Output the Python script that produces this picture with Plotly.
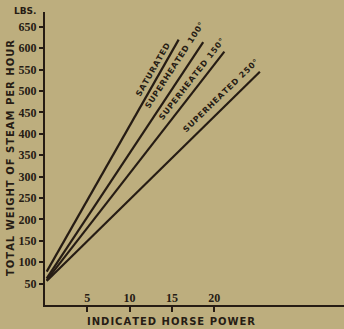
import plotly.graph_objects as go

# ---- data ----
series_names = ["SATURATED", "SUPERHEATED 100°", "SUPERHEATED 150°", "SUPERHEATED 250°"]
hp_start = [0.2, 0.2, 0.2, 0.2]
hp_end = [15.8, 18.7, 21.2, 25.4]
steam_start = [78, 62, 58, 56]
steam_end = [620, 614, 592, 545]

label_x = [12.8, 15.3, 17.3, 20.8]
label_y = [550, 560, 528, 490]
label_angle = [-60, -57, -52, -44]

y_ticks = [50, 100, 150, 200, 250, 300, 350, 400, 450, 500, 550, 600, 650]
x_ticks = [5, 10, 15, 20]

BG = "rgb(189,174,126)"
INK = "rgb(38,28,20)"

def spaced(s, sp="\u200a"):
    return sp.join(list(s))

fig = go.Figure()
for i, name in enumerate(series_names):
    fig.add_trace(go.Scatter(
        x=[hp_start[i], hp_end[i]], y=[steam_start[i], steam_end[i]],
        mode="lines", line=dict(color=INK, width=2.2), name=name,
        showlegend=False, hoverinfo="skip"))
    fig.add_annotation(x=label_x[i], y=label_y[i], xref="x", yref="y",
                       xanchor="center", yanchor="middle",
                       text=spaced(name), textangle=label_angle[i], showarrow=False,
                       font=dict(family="DejaVu Sans", size=8, color=INK, weight="bold"))

W, H = 344, 329
L, R, T, B = 45, 0, 12, 24
fig.update_layout(
    width=W, height=H,
    margin=dict(l=L, r=R, t=T, b=B, pad=0),
    paper_bgcolor=BG, plot_bgcolor=BG,
    xaxis=dict(range=[0, (W - L) / 8.46], showgrid=False, zeroline=False,
               showline=True, linecolor=INK, linewidth=2,
               tickmode="array", tickvals=x_ticks, ticktext=[str(v) for v in x_ticks],
               ticks="outside", ticklen=5, tickwidth=1.5, tickcolor=INK,
               ticklabelposition="inside",
               tickfont=dict(family="Liberation Serif", size=12, color=INK, weight="bold")),
    yaxis=dict(range=[0, 293 / 0.428], showgrid=False, zeroline=False,
               showline=True, linecolor=INK, linewidth=2,
               tickmode="array", tickvals=y_ticks, ticktext=[str(v) for v in y_ticks],
               ticks="outside", ticklen=4, tickwidth=1.5, tickcolor=INK,
               tickfont=dict(family="Liberation Serif", size=12, color=INK, weight="bold")),
)

PW = W - L - R
fig.add_annotation(x=(10 - L) / PW, y=(305 - 158) / 293, xref="paper", yref="paper",
                   xanchor="center", yanchor="middle",
                   text=spaced("TOTAL WEIGHT OF STEAM PER HOUR"), textangle=-90,
                   showarrow=False, font=dict(family="DejaVu Sans", size=10, color=INK, weight="bold"))
fig.add_annotation(x=(25 - L) / PW, y=(305 - 11) / 293, xref="paper", yref="paper",
                   xanchor="center", yanchor="middle",
                   text="LBS.", showarrow=False,
                   font=dict(family="DejaVu Sans", size=9, color=INK, weight="bold"))
fig.add_annotation(x=(171 - L) / PW, y=(305 - 321) / 293, xref="paper", yref="paper",
                   xanchor="center", yanchor="middle",
                   text=spaced("INDICATED HORSE POWER"), showarrow=False,
                   font=dict(family="DejaVu Sans", size=10, color=INK, weight="bold"))

fig.write_html("out.html", config={"displayModeBar": False},
               post_script="document.body.style.margin='0';document.body.style.overflow='hidden';document.body.style.background='" + BG + "';")
